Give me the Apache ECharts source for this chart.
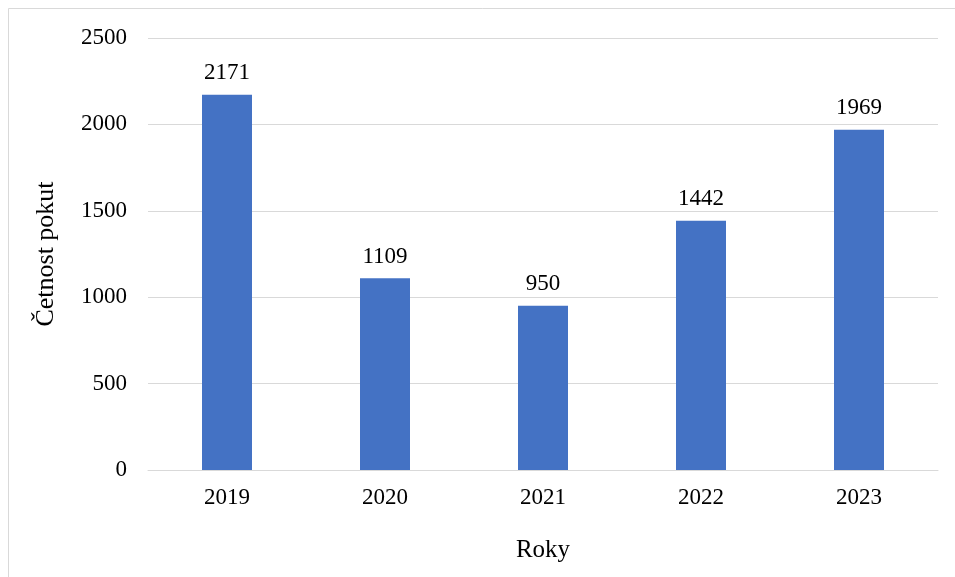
<!DOCTYPE html>
<html>
<head>
<meta charset="utf-8">
<script src="https://cdn.jsdelivr.net/npm/echarts@6/dist/echarts.min.js"></script>
<style>html,body{margin:0;padding:0;background:#fff;}#c{width:955px;height:577px;}</style>
</head>
<body>
<div id="c"></div>
<script>
const categories = ['2019', '2020', '2021', '2022', '2023'];
const values = [2171, 1109, 950, 1442, 1969];
const yTicks = [0, 500, 1000, 1500, 2000, 2500];

const font = '"Liberation Serif", "Times New Roman", serif';
const chart = echarts.init(document.getElementById('c'), null, {renderer: 'canvas'});
chart.setOption({
  backgroundColor: '#ffffff',
  animation: false,
  graphic: [{
    type: 'rect',
    shape: {x: 8.5, y: 8.5, width: 1000, height: 700},
    style: {fill: 'none', stroke: '#d9d9d9', lineWidth: 1},
    silent: true
  }],
  grid: {left: 148, right: 17, top: 38, bottom: 107, containLabel: false},
  xAxis: {
    type: 'category',
    data: categories,
    name: 'Roky',
    nameLocation: 'middle',
    nameGap: 68,
    nameTextStyle: {fontFamily: font, fontSize: 25, color: '#000'},
    axisLine: {show: true, lineStyle: {color: '#d9d9d9', width: 1}},
    axisTick: {show: false},
    axisLabel: {fontFamily: font, fontSize: 23, color: '#000', margin: 16}
  },
  yAxis: {
    type: 'value',
    min: yTicks[0],
    max: yTicks[yTicks.length - 1],
    interval: 500,
    name: 'Četnost pokut',
    nameLocation: 'middle',
    nameGap: 89,
    nameTextStyle: {fontFamily: font, fontSize: 26, color: '#000'},
    axisLine: {show: false},
    axisTick: {show: false},
    axisLabel: {fontFamily: font, fontSize: 23, color: '#000', margin: 21, formatter: v => String(v)},
    splitLine: {show: true, lineStyle: {color: '#d9d9d9', width: 1}}
  },
  series: [{
    type: 'bar',
    data: values,
    barWidth: 50,
    itemStyle: {color: '#4472C4'},
    label: {show: true, position: 'top', distance: 10, fontFamily: font, fontSize: 23, color: '#000'}
  }]
});
</script>
</body>
</html>
